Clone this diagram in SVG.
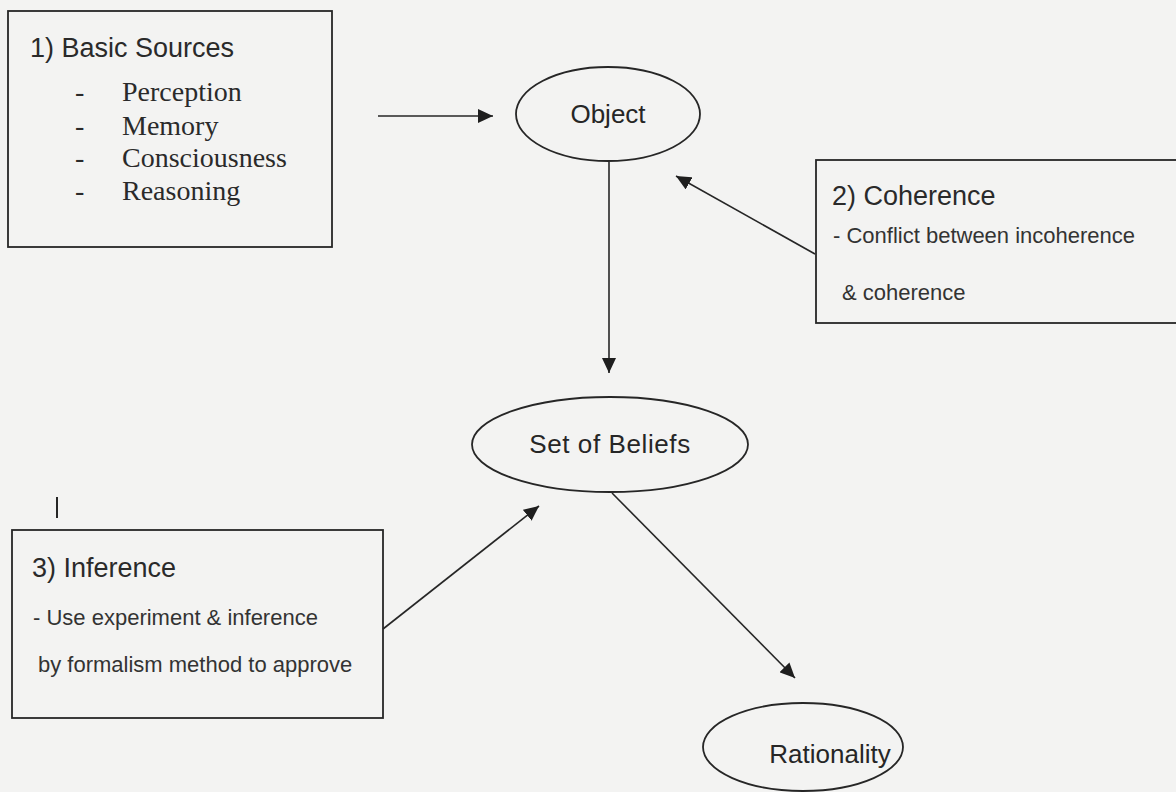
<svg xmlns="http://www.w3.org/2000/svg" width="1176" height="792" viewBox="0 0 1176 792">
<defs>
<style>
.bg{fill:#f3f3f2}
.box{fill:none;stroke:#262626;stroke-width:1.8}
.ell{fill:none;stroke:#262626;stroke-width:1.8}
.edge{fill:none;stroke:#262626;stroke-width:1.6}
.h{font-family:"Liberation Sans",Arial,sans-serif;font-size:27px;fill:#2a2a2a}
.s{font-family:"Liberation Sans",Arial,sans-serif;font-size:22px;fill:#333}
.n{font-family:"Liberation Sans",Arial,sans-serif;font-size:26px;fill:#262626}
.serif{font-family:"Liberation Serif","Times New Roman",serif;font-size:28px;fill:#2a2a2a}
</style>
<marker id="ah" markerUnits="userSpaceOnUse" markerWidth="16" markerHeight="14" refX="15" refY="7" orient="auto">
<path d="M0,0 L15,7 L0,14 z" fill="#1e1e1e"/>
</marker>
</defs>
<rect class="bg" x="0" y="0" width="1176" height="792"/>

<g id="connectors">
<line class="edge" x1="378" y1="116" x2="493" y2="116" marker-end="url(#ah)"/>
<line class="edge" x1="609" y1="162" x2="609" y2="373" marker-end="url(#ah)"/>
<line class="edge" x1="815" y1="254" x2="676" y2="176" marker-end="url(#ah)"/>
<line class="edge" x1="383" y1="629" x2="539" y2="506" marker-end="url(#ah)"/>
<line class="edge" x1="612" y1="493" x2="795" y2="678" marker-end="url(#ah)"/>
</g>

<g id="basic-sources">
<rect class="box" x="8" y="11" width="324" height="236"/>
<text class="h" x="30" y="57">1) Basic Sources</text>
<text class="serif" x="75" y="101">-</text>
<text class="serif" x="122" y="101">Perception</text>
<text class="serif" x="75" y="135">-</text>
<text class="serif" x="122" y="135">Memory</text>
<text class="serif" x="75" y="167">-</text>
<text class="serif" x="122" y="167">Consciousness</text>
<text class="serif" x="75" y="200">-</text>
<text class="serif" x="122" y="200">Reasoning</text>
</g>

<g id="object">
<ellipse class="ell" cx="608" cy="114" rx="92" ry="47"/>
<text class="n" x="608" y="123" text-anchor="middle">Object</text>
</g>

<g id="coherence">
<rect class="box" x="816" y="160" width="370" height="163"/>
<text class="h" x="832" y="205">2) Coherence</text>
<text class="s" x="833" y="243">- Conflict between incoherence</text>
<text class="s" x="842" y="300">&amp; coherence</text>
</g>

<g id="set-of-beliefs">
<ellipse class="ell" cx="610" cy="444.5" rx="138" ry="47.5"/>
<text class="n" x="610" y="453" text-anchor="middle" font-size="27" letter-spacing="0.6">Set of Beliefs</text>
</g>

<g id="inference">
<rect class="box" x="12" y="530" width="371" height="188"/>
<text class="h" x="32" y="577">3) Inference</text>
<text class="s" x="33" y="625">- Use experiment &amp; inference</text>
<text class="s" x="38" y="672">by formalism method to approve</text>
</g>

<g id="rationality">
<ellipse class="ell" cx="803" cy="747" rx="100" ry="44"/>
<text class="n" x="830" y="763" text-anchor="middle" font-size="29">Rationality</text>
</g>

<line x1="57" y1="497" x2="57" y2="518" stroke="#262626" stroke-width="2"/>
</svg>
